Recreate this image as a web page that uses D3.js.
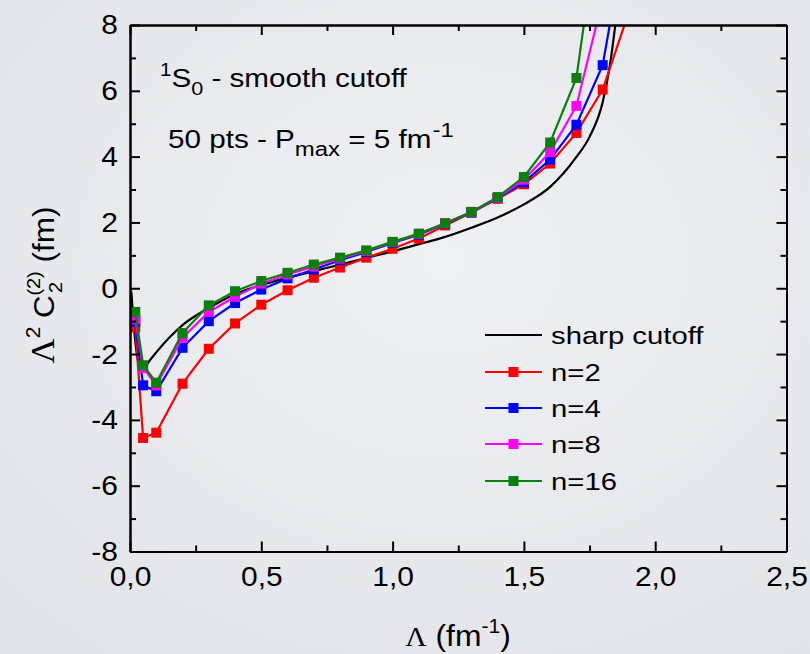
<!DOCTYPE html>
<html>
<head>
<meta charset="utf-8">
<script src="https://cdn.jsdelivr.net/npm/d3@7"></script>
<style>
  body { margin: 0; padding: 0; }
  svg { display: block; }
  text { font-family: "Liberation Sans", Arial, sans-serif; fill: #000; }
</style>
</head>
<body>
<script>

// lambda (fm^-1) values of the smooth cutoff runs
var lambdaPts = [0.02, 0.05, 0.1, 0.2, 0.3, 0.4, 0.5, 0.6, 0.7, 0.8, 0.9, 1.0,
                 1.1, 1.2, 1.3, 1.4, 1.5, 1.6, 1.7, 1.8, 1.9];

var n2  = [-1.19, -4.55, -4.39, -2.9, -1.84, -1.07, -0.5, -0.06, 0.32, 0.63, 0.93, 1.2,
           1.51, 1.91, 2.3, 2.72, 3.16, 3.79, 4.72, 6.04, 8.4];
var n4  = [-1.02, -2.95, -3.13, -1.81, -1.0, -0.45, -0.04, 0.3, 0.57, 0.85, 1.1, 1.38,
           1.63, 1.96, 2.3, 2.74, 3.22, 3.91, 4.97, 6.78, 11.3];
var n8  = [-0.94, -2.42, -2.95, -1.5, -0.72, -0.26, 0.14, 0.42, 0.66, 0.9, 1.13, 1.4,
           1.65, 1.98, 2.32, 2.75, 3.3, 4.14, 5.54, 8.78];
var n16 = [-0.72, -2.34, -2.87, -1.36, -0.52, -0.09, 0.22, 0.47, 0.72, 0.93, 1.15, 1.41,
           1.66, 1.97, 2.32, 2.77, 3.38, 4.43, 6.39, 12.1];

// sharp cutoff curve
var sharpX = [0.005, 0.02, 0.04, 0.05, 0.07, 0.1, 0.15, 0.2, 0.3, 0.4, 0.5, 0.6, 0.7, 0.8,
              0.9, 1.0, 1.1, 1.2, 1.3, 1.4, 1.5, 1.6, 1.7, 1.75, 1.8, 1.83, 1.848];
var sharpY = [-0.1, -1.6, -2.45, -2.5, -2.25, -1.95, -1.5, -1.12, -0.6, -0.18, 0.1, 0.32,
              0.52, 0.72, 0.92, 1.12, 1.34, 1.56, 1.84, 2.15, 2.55, 3.08, 3.99, 4.6, 5.65, 6.9, 8.0];

var xTicks = [0, 0.5, 1.0, 1.5, 2.0, 2.5];
var xMinor = [0.25, 0.75, 1.25, 1.75, 2.25];
var yTicks = [-8, -6, -4, -2, 0, 2, 4, 6, 8];
var yMinor = [-7, -5, -3, -1, 1, 3, 5, 7];

var seriesNames = ["n=2", "n=4", "n=8", "n=16"];
var seriesColors = ["#ff0000", "#0000ff", "#ff00ff", "#0b7f0b"];
var seriesVals = [n2, n4, n8, n16];

var W = 810, H = 654;
var x0 = 130, x1 = 786.5, y0 = 25, y1 = 551.5;

var svg = d3.select("body").append("svg")
  .attr("width", W).attr("height", H);

var defs = svg.append("defs");
var grad = defs.append("radialGradient")
  .attr("id", "bg").attr("cx", "55%").attr("cy", "40%").attr("r", "75%");
grad.append("stop").attr("offset", "0%").attr("stop-color", "#eff0f3");
grad.append("stop").attr("offset", "100%").attr("stop-color", "#e2e4e9");

defs.append("clipPath").attr("id", "plotclip")
  .append("rect").attr("x", x0).attr("y", y0).attr("width", x1 - x0).attr("height", y1 - y0);

svg.append("rect").attr("width", W).attr("height", H).attr("fill", "url(#bg)");

var x = d3.scaleLinear().domain([0, 2.5]).range([x0, x1]);
var y = d3.scaleLinear().domain([-8, 8]).range([y1, y0]);

var plot = svg.append("g").attr("clip-path", "url(#plotclip)");

var line = d3.line()
  .x(function(d){ return x(d[0]); })
  .y(function(d){ return y(d[1]); });

// sharp cutoff
var sharpData = sharpX.map(function(v, i){ return [v, sharpY[i]]; });
plot.append("path")
  .datum(sharpData)
  .attr("d", d3.line().curve(d3.curveMonotoneX)
    .x(function(d){ return x(d[0]); })
    .y(function(d){ return y(d[1]); }))
  .attr("fill", "none")
  .attr("stroke", "#000")
  .attr("stroke-width", 2.2);

var ms = 10;
seriesVals.forEach(function(vals, k){
  var data = vals.map(function(v, i){ return [lambdaPts[i], v]; });
  var g = plot.append("g");
  g.append("path")
    .datum(data)
    .attr("d", line)
    .attr("fill", "none")
    .attr("stroke", seriesColors[k])
    .attr("stroke-width", 2.2);
  g.selectAll("rect").data(data.filter(function(d){ return d[1] <= 8; }))
    .enter().append("rect")
    .attr("x", function(d){ return x(d[0]) - ms / 2; })
    .attr("y", function(d){ return y(d[1]) - ms / 2; })
    .attr("width", ms).attr("height", ms)
    .attr("fill", seriesColors[k]);
});

// axes
var fmtX = function(d){ return d3.format(".1f")(d).replace(".", ","); };
var fmtY = function(d){ return String(d); };
var tickStretch = 1.07;

function styleAxis(g){
  g.select(".domain").attr("stroke", "#000").attr("stroke-width", 2);
  g.selectAll(".tick line").attr("stroke", "#000").attr("stroke-width", 2);
  g.selectAll(".tick text").style("font-family", '"Liberation Sans", Arial, sans-serif')
    .style("font-size", "28px").attr("fill", "#000")
    .attr("x", function(){ return (+d3.select(this).attr("x") || 0) / tickStretch; })
    .attr("transform", "scale(" + tickStretch + ",1)");
}

function addAxis(axis, tx, ty){
  var g = svg.append("g").attr("transform", "translate(" + tx + "," + ty + ")").call(axis);
  styleAxis(g);
  return g;
}

addAxis(d3.axisBottom(x).tickValues(xTicks).tickFormat(fmtX).tickSize(-10).tickSizeOuter(0).tickPadding(15), 0, y1);
addAxis(d3.axisBottom(x).tickValues(xMinor).tickFormat("").tickSize(-6).tickSizeOuter(0), 0, y1);
addAxis(d3.axisTop(x).tickValues(xTicks).tickFormat("").tickSize(-10).tickSizeOuter(0), 0, y0);
addAxis(d3.axisTop(x).tickValues(xMinor).tickFormat("").tickSize(-6).tickSizeOuter(0), 0, y0);
addAxis(d3.axisLeft(y).tickValues(yTicks).tickFormat(fmtY).tickSize(-10).tickSizeOuter(0).tickPadding(12), x0, 0);
addAxis(d3.axisLeft(y).tickValues(yMinor).tickFormat("").tickSize(-6).tickSizeOuter(0), x0, 0);
addAxis(d3.axisRight(y).tickValues(yTicks).tickFormat("").tickSize(-10).tickSizeOuter(0), x1, 0);
addAxis(d3.axisRight(y).tickValues(yMinor).tickFormat("").tickSize(-6).tickSizeOuter(0), x1, 0);

// text placed at (tx,ty) and widened a little, like the original figure font
function wideText(tx, ty, sx, size){
  return svg.append("text")
    .attr("transform", "translate(" + tx + "," + ty + ") scale(" + sx + ",1)")
    .style("font-size", size + "px");
}

// axis titles
var xt = wideText(458, 646, 1.06, 30).attr("text-anchor", "middle");
xt.append("tspan").text("Λ").style("font-family", '"Liberation Serif", serif').style("font-size", "28px");
xt.append("tspan").text(" (fm");
xt.append("tspan").text("-1").style("font-size", "20px").attr("dy", -13);
xt.append("tspan").text(")").attr("dy", 13);

var yt = svg.append("text").attr("transform", "translate(54,285) rotate(-90) scale(1.05,1)")
  .attr("text-anchor", "middle").style("font-size", "30px");
yt.append("tspan").text("Λ").style("font-family", '"Liberation Serif", serif').style("font-size", "33px");
yt.append("tspan").text("2").style("font-size", "20px").attr("dy", -14);
yt.append("tspan").text(" C").attr("dy", 14);
yt.append("tspan").text("2").style("font-size", "19px").attr("dy", 8).attr("dx", 2);
yt.append("tspan").text("(2)").style("font-size", "19px").attr("dy", -22).attr("dx", -13);
yt.append("tspan").text(" (fm)").attr("dy", 14);

// annotations
var a1 = wideText(160, 87, 1.14, 26);
a1.append("tspan").text("1").style("font-size", "18px").attr("dy", -11);
a1.append("tspan").text("S").attr("dy", 11);
a1.append("tspan").text("0").style("font-size", "19px").attr("dy", 8);
a1.append("tspan").text(" - smooth cutoff").attr("dy", -8);

var a2 = wideText(168, 148, 1.14, 26);
a2.append("tspan").text("50 pts - P");
a2.append("tspan").text("max").style("font-size", "21px").attr("dy", 8);
a2.append("tspan").text(" = 5 fm").attr("dy", -8);
a2.append("tspan").text("-1").style("font-size", "21px").attr("dy", -11).attr("dx", 1);

// legend
var legY = [335, 372, 408, 444, 481];
var leg = svg.append("g");
leg.append("line").attr("x1", 485).attr("x2", 542).attr("y1", legY[0]).attr("y2", legY[0])
  .attr("stroke", "#000").attr("stroke-width", 2.2);
wideText(551, legY[0] + 8.5, 1.22, 24).text("sharp cutoff");
seriesNames.forEach(function(name, k){
  var yy = legY[k + 1];
  leg.append("line").attr("x1", 485).attr("x2", 542).attr("y1", yy).attr("y2", yy)
    .attr("stroke", seriesColors[k]).attr("stroke-width", 2.2);
  leg.append("rect").attr("x", 513.5 - ms / 2).attr("y", yy - ms / 2)
    .attr("width", ms).attr("height", ms).attr("fill", seriesColors[k]);
  wideText(551, yy + 8.5, 1.22, 24).text(name);
});

</script>
</body>
</html>
